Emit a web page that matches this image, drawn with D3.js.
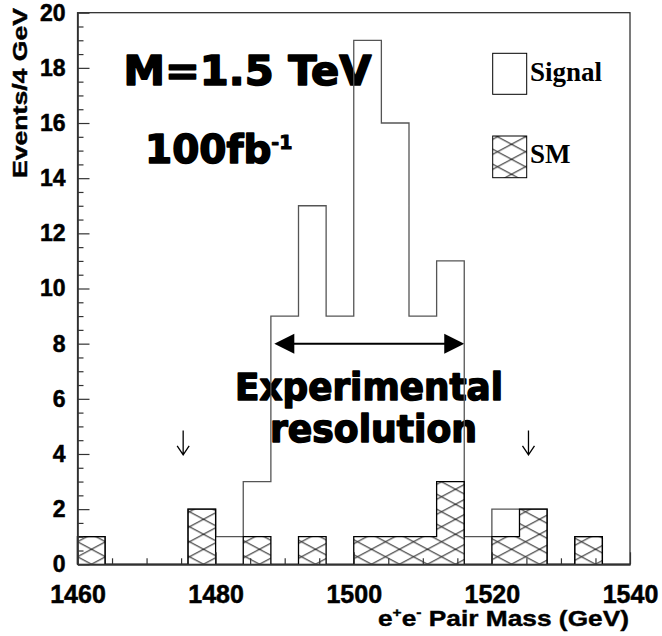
<!DOCTYPE html>
<html>
<head>
<meta charset="utf-8">
<script src="https://cdn.jsdelivr.net/npm/d3@7"></script>
<style>
  body { margin: 0; background: #fff; }
  svg { display: block; }
</style>
</head>
<body>
<div id="chart"></div>
<script>
// 4 GeV bins, low edges
const binLow = [1460, 1464, 1468, 1472, 1476, 1480, 1484, 1488, 1492, 1496,
                1500, 1504, 1508, 1512, 1516, 1520, 1524, 1528, 1532, 1536];
const binWidth = 4;
// outline histogram (signal + SM) and the hatched SM part
const signalCounts = [1, 0, 0, 0, 2, 1, 3, 9, 13, 9, 19, 16, 9, 11, 1, 2, 2, 0, 1, 0];
const smCounts     = [1, 0, 0, 0, 2, 0, 1, 0, 1, 0, 1, 1, 1, 3, 0, 1, 2, 0, 1, 0];

const xMajorTicks = [1460, 1480, 1500, 1520, 1540];
const xMinorTicks = [1465, 1470, 1475, 1485, 1490, 1495, 1505, 1510, 1515, 1525, 1530, 1535];
const yMajorTicks = [0, 2, 4, 6, 8, 10, 12, 14, 16, 18, 20];
const yMinorTicks = [0.5, 1, 1.5, 2.5, 3, 3.5, 4.5, 5, 5.5, 6.5, 7, 7.5, 8.5, 9, 9.5,
                     10.5, 11, 11.5, 12.5, 13, 13.5, 14.5, 15, 15.5, 16.5, 17, 17.5, 18.5, 19, 19.5];

// annotations (data coordinates)
const resolutionArrow = { from: 1488.5, to: 1516, level: 8 };
const windowMarks = [1475.3, 1525.3];
const windowMarkTop = 4.85, windowMarkBottom = 3.97;

const width = 662, height = 636;
const x = d3.scaleLinear().domain([1460, 1540]).range([77.5, 630]);
const y = d3.scaleLinear().domain([0, 20]).range([564.3, 12.7]);

const svg = d3.select("#chart").append("svg")
  .attr("width", width)
  .attr("height", height)
  .attr("viewBox", `0 0 ${width} ${height}`);

svg.append("rect").attr("width", width).attr("height", height).attr("fill", "#fff");

// cross hatch like ROOT fill style
const defs = svg.append("defs");
const hatch = defs.append("pattern")
  .attr("id", "xhatch")
  .attr("patternUnits", "userSpaceOnUse")
  .attr("x", x(1460) - 14)
  .attr("y", y(0))
  .attr("width", 28)
  .attr("height", 15);
hatch.append("path")
  .attr("d", "M-28,-15L56,30M-28,30L56,-15")
  .attr("stroke", "#000")
  .attr("stroke-width", 1)
  .attr("fill", "none");

const boldSans = "'Liberation Sans', Arial, sans-serif";
const heavySans = "'DejaVu Sans', 'Arial Black', sans-serif";

// heavy text helper: bold glyphs plus a thin outline to get the black weight
function heavy(sel, size, outline) {
  return sel.attr("font-family", heavySans)
    .attr("font-weight", "bold")
    .attr("font-size", size)
    .attr("fill", "#000")
    .attr("stroke", "#000")
    .attr("stroke-width", outline)
    .attr("stroke-linejoin", "round");
}

// ---- big labels (drawn first, histogram lines go over them)
heavy(svg.append("text"), 41, 1.6)
  .attr("x", 123.5).attr("y", 85)
  .attr("textLength", 248).attr("lengthAdjust", "spacingAndGlyphs")
  .text("M=1.5 TeV");

const lumi = heavy(svg.append("text"), 39, 1.6)
  .attr("x", 145).attr("y", 163.3);
lumi.append("tspan").text("100fb");
lumi.append("tspan").attr("font-size", 19).attr("stroke-width", 1).attr("dy", -14.4).text("-1");

heavy(svg.append("text"), 36.5, 1.5)
  .attr("x", 235).attr("y", 400)
  .attr("textLength", 268).attr("lengthAdjust", "spacingAndGlyphs")
  .text("Experimental");
heavy(svg.append("text"), 36.5, 1.5)
  .attr("x", 270).attr("y", 441.7)
  .attr("textLength", 207).attr("lengthAdjust", "spacingAndGlyphs")
  .text("resolution");

// ---- resolution arrow
const ay = y(resolutionArrow.level);
const ax1 = x(resolutionArrow.from), ax2 = x(resolutionArrow.to);
svg.append("line")
  .attr("x1", ax1 + 10).attr("x2", ax2 - 10)
  .attr("y1", ay).attr("y2", ay)
  .attr("stroke", "#000").attr("stroke-width", 2);
svg.append("path")
  .attr("d", `M${ax1},${ay}L${ax1 + 20},${ay - 10}L${ax1 + 20},${ay + 10}Z`)
  .attr("fill", "#000");
svg.append("path")
  .attr("d", `M${ax2},${ay}L${ax2 - 20},${ay - 10}L${ax2 - 20},${ay + 10}Z`)
  .attr("fill", "#000");

// ---- mass window marks
windowMarks.forEach(m => {
  const mx = x(m), top = y(windowMarkTop), bot = y(windowMarkBottom);
  svg.append("path")
    .attr("d", `M${mx},${top}V${bot}M${mx - 6},${bot - 9}L${mx},${bot}L${mx + 6},${bot - 9}`)
    .attr("fill", "none")
    .attr("stroke", "#000")
    .attr("stroke-width", 1.3);
});

// ---- histograms
function stepPoints(counts) {
  const pts = [[binLow[0], 0]];
  counts.forEach((c, i) => pts.push([binLow[i], c]));
  pts.push([binLow[binLow.length - 1] + binWidth, 0]);
  return pts;
}

const stepLine = d3.line()
  .x(d => x(d[0]))
  .y(d => y(d[1]))
  .curve(d3.curveStepAfter);

const stepArea = d3.area()
  .x(d => x(d[0]))
  .y0(y(0))
  .y1(d => y(d[1]))
  .curve(d3.curveStepAfter);

svg.append("path")
  .attr("d", stepLine(stepPoints(signalCounts)))
  .attr("fill", "none")
  .attr("stroke", "#555")
  .attr("stroke-width", 1.3);

const smPts = stepPoints(smCounts);
svg.append("path")
  .attr("d", stepArea(smPts))
  .attr("fill", "url(#xhatch)");
svg.append("path")
  .attr("d", stepLine(smPts))
  .attr("fill", "none")
  .attr("stroke", "#000")
  .attr("stroke-width", 1.3);

// ---- frame
svg.append("rect")
  .attr("x", x(1460)).attr("y", y(20))
  .attr("width", x(1540) - x(1460))
  .attr("height", y(0) - y(20))
  .attr("fill", "none")
  .attr("stroke", "#222")
  .attr("stroke-width", 1.2);

// ---- axes (ticks point inwards)
const yAxis = svg.append("g").attr("transform", `translate(${x(1460)},0)`);
yAxis.call(d3.axisLeft(y).tickValues(yMajorTicks).tickSize(-12).tickSizeOuter(0)
  .tickPadding(12).tickFormat(d3.format("d")));
yAxis.append("g").call(d3.axisLeft(y).tickValues(yMinorTicks).tickSize(-6)
  .tickSizeOuter(0).tickFormat(""));
yAxis.selectAll("text")
  .attr("font-family", boldSans).attr("font-weight", "bold")
  .attr("font-size", 23).attr("fill", "#000")
  .attr("stroke", "#000").attr("stroke-width", 0.5);

const xAxis = svg.append("g").attr("transform", `translate(0,${y(0)})`);
xAxis.call(d3.axisBottom(x).tickValues(xMajorTicks).tickSize(-12).tickSizeOuter(0)
  .tickPadding(21).tickFormat(d3.format("d")));
xAxis.append("g").call(d3.axisBottom(x).tickValues(xMinorTicks).tickSize(-6)
  .tickSizeOuter(0).tickFormat(""));
xAxis.selectAll("text")
  .attr("font-family", boldSans).attr("font-weight", "bold")
  .attr("font-size", 25).attr("fill", "#000")
  .attr("stroke", "#000").attr("stroke-width", 0.5);

svg.selectAll(".domain, .tick line").attr("stroke", "#333").attr("stroke-width", 1.2);

// ---- axis titles
svg.append("text")
  .attr("transform", "translate(26.5,178) rotate(-90)")
  .attr("font-family", boldSans).attr("font-weight", "bold")
  .attr("font-size", 19.5)
  .attr("stroke", "#000").attr("stroke-width", 0.4)
  .attr("textLength", 170).attr("lengthAdjust", "spacingAndGlyphs")
  .text("Events/4 GeV");

const xTitle = svg.append("text")
  .attr("x", 378).attr("y", 626)
  .attr("font-family", boldSans).attr("font-weight", "bold")
  .attr("font-size", 22)
  .attr("stroke", "#000").attr("stroke-width", 0.4)
  .attr("textLength", 251).attr("lengthAdjust", "spacingAndGlyphs");
xTitle.append("tspan").text("e");
xTitle.append("tspan").attr("font-size", 13).attr("dy", -9).text("+");
xTitle.append("tspan").attr("dy", 9).text("e");
xTitle.append("tspan").attr("font-size", 13).attr("dy", -9).text("-");
xTitle.append("tspan").attr("dy", 9).text(" Pair Mass (GeV)");

// ---- legend
const legend = [
  { label: "Signal", fill: "#fff", top: 53.3, bottom: 94.3, baseline: 81 },
  { label: "SM", fill: "url(#xhatch)", top: 136, bottom: 177.7, baseline: 163.3 }
];
const lg = svg.append("g");
lg.selectAll("rect")
  .data(legend)
  .enter()
  .append("rect")
  .attr("x", 492.7)
  .attr("y", d => d.top)
  .attr("width", 34)
  .attr("height", d => d.bottom - d.top)
  .attr("fill", d => d.fill)
  .attr("stroke", "#000")
  .attr("stroke-width", 1);
lg.selectAll("text")
  .data(legend)
  .enter()
  .append("text")
  .attr("x", 530)
  .attr("y", d => d.baseline)
  .attr("font-family", "'Liberation Serif', 'Times New Roman', serif")
  .attr("font-weight", "bold")
  .attr("font-size", 27)
  .text(d => d.label);
</script>
</body>
</html>
